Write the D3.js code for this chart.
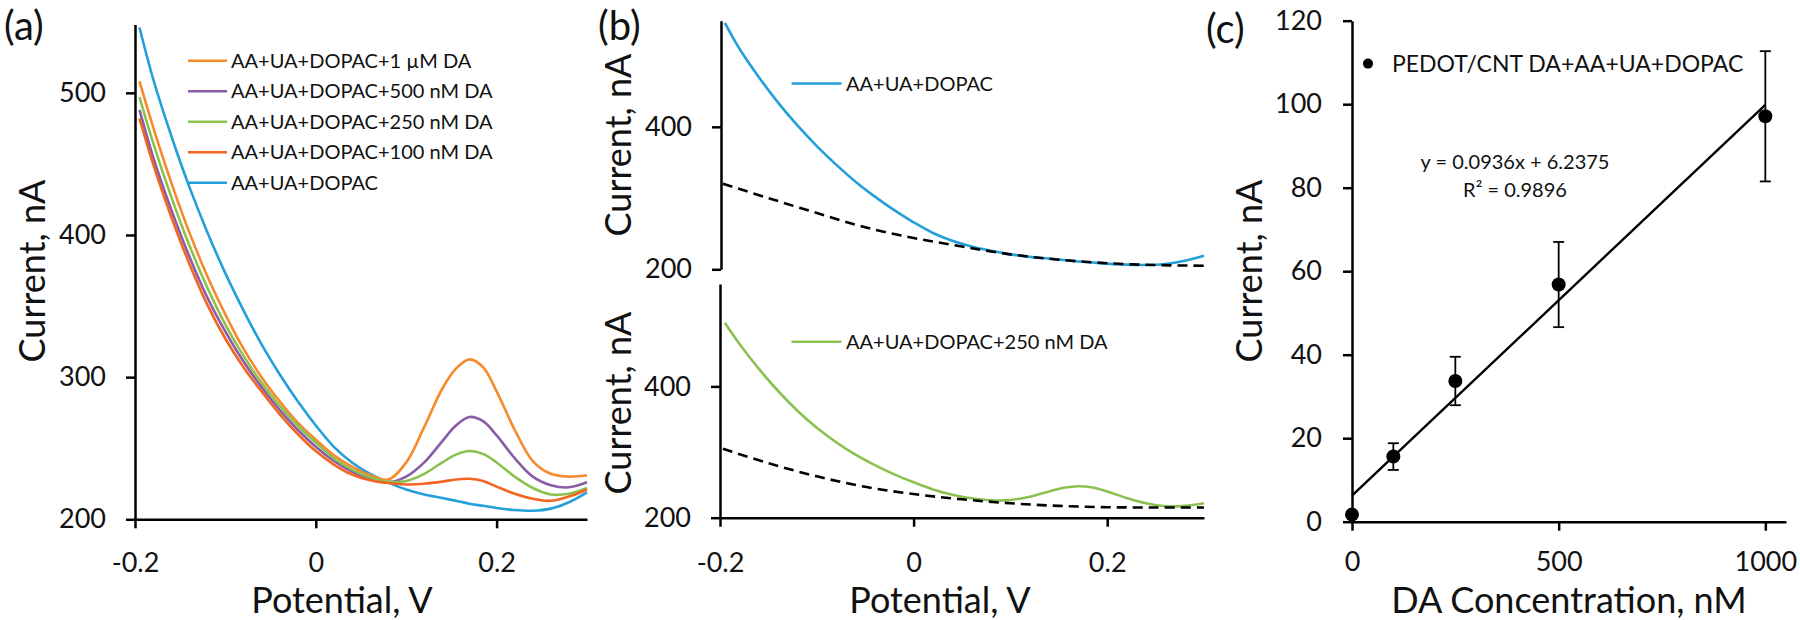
<!DOCTYPE html>
<html><head><meta charset="utf-8">
<script src="https://cdn.jsdelivr.net/npm/d3@7"></script>
<style>
body{margin:0;background:#fff;}
svg{display:block;font-family:Lato,"Open Sans",sans-serif;}
</style></head><body>
<svg id="chart" width="1800" height="620"></svg>
<script>
// ---------- data ----------
const potential = [-0.195,-0.18,-0.16,-0.14,-0.12,-0.10,-0.08,-0.06,-0.04,-0.02,0,0.02,0.04,0.06,0.08,0.10,0.12,0.14,0.155,0.17,0.185,0.20,0.22,0.24,0.26,0.28,0.30];
const cur1uM  = [508,476,437,402,371,344,320,300,283,268,256,245,237,231,228,240,265,292,306,312.5,307,290,263,241,232,230,231];
const cur500  = [488,455,418,385,356,332,311,293,277,263,251,241,233.5,228.5,226,230,240,255,266,272,269,259,243,230,224,222.5,226];
const cur250  = [497,465,427,393,363,337,315,296,280,266,254,243,235,229.5,226.5,227,232,240,245.5,248,246,240,230,222,217.5,218,222];
const cur100  = [482,450,413,380,351,327,307,290,274,260,248,238.5,231.5,227.5,225.5,224.5,225,226.5,228,228.5,227,223,218,214.5,213,216,221];
const curBlank= [546,510,470,434,402,373,347,323,302,283,266,251,240,232,226,221,217.5,215,213,211,209.5,208,206.5,206,207.5,212,219];
const seriesNames = ["AA+UA+DOPAC+1 \u00b5M DA","AA+UA+DOPAC+500 nM DA","AA+UA+DOPAC+250 nM DA","AA+UA+DOPAC+100 nM DA","AA+UA+DOPAC"];
const seriesColors = ["#F7892B","#8A5CA5","#8CC152","#F26522","#23A0DA"];

const baselineV = [-0.197,-0.15,-0.10,-0.05,0,0.05,0.10,0.15,0.20,0.25,0.30];
const baselineTop = [320,300,279,259,244,232,221,213.5,208.5,206,205];
const baselineBottom = [305,283,263,247,236,228,222,218,216,215.5,215.5];

const conc = [0,100,250,500,1000];
const meanCurrent = [1.7,15.6,33.7,56.8,97.1];
const errCurrent = [0,3.2,5.8,10.2,15.6];
const trendX = [0,1000];
const trendY = [6.24,99.84];
const eqText = ["y = 0.0936x + 6.2375","R\u00b2 = 0.9896"];

const ticksA_y = [200,300,400,500];
const ticksV = [-0.2,0,0.2];
const ticksB_y = [200,400];
const ticksC_y = [0,20,40,60,80,100,120];
const ticksC_x = [0,500,1000];

// ---------- drawing ----------
const svg = d3.select("#chart");
const AX = 2.5, TS = 9;
const fmtV = d => d===0 ? "0" : (d<0 ? "-" : "") + Math.abs(d).toFixed(1);

function styleAxis(g, fs){
  g.select(".domain").attr("stroke","#000").attr("stroke-width",AX);
  g.selectAll(".tick line").attr("stroke","#000").attr("stroke-width",AX);
  g.selectAll(".tick text").attr("fill","#111").attr("font-size",fs).attr("font-family","Lato");
}
function line(x,y,xs,ys){ return d3.line().x((d,i)=>x(xs[i])).y(d=>y(d)).curve(d3.curveCatmullRom.alpha(0.5))(ys); }
function ytitle(x,y,t,fs){ svg.append("text").attr("transform",`translate(${x},${y}) rotate(-90)`).attr("text-anchor","middle").attr("font-size",fs).attr("fill","#111").text(t); }
function xtitle(x,y,t){ svg.append("text").attr("x",x).attr("y",y).attr("text-anchor","middle").attr("font-size",36).attr("fill","#111").text(t); }

// panel labels
[["(a)",4,40],["(b)",598,40],["(c)",1206,43]].forEach(p=>svg.append("text").attr("x",p[1]).attr("y",p[2]).attr("font-size",40).attr("fill","#111").text(p[0]));

// ---- (a) ----
const xA = d3.scaleLinear([-0.2,0.3],[135,587]);
const yA = d3.scaleLinear([200,548],[519.3,24.6]);
const curves = [cur1uM,cur500,cur250,cur100,curBlank];
[4,0,1,2,3].forEach(i=>{
  svg.append("path").attr("d",line(xA,yA,potential,curves[i])).attr("fill","none").attr("stroke",seriesColors[i]).attr("stroke-width",2.6);
});
svg.append("g").attr("transform","translate(0,519.3)").call(d3.axisBottom(xA).tickValues(ticksV).tickFormat(fmtV).tickSize(TS).tickSizeOuter(0).tickPadding(25)).call(g=>styleAxis(g,27));
svg.append("g").attr("transform","translate(135,0)").call(d3.axisLeft(yA).tickValues(ticksA_y).tickSize(TS).tickSizeOuter(0).tickPadding(20)).call(g=>styleAxis(g,27));
seriesNames.forEach((n,i)=>{
  const y = 60.8 + i*30.5;
  svg.append("line").attr("x1",188).attr("x2",227).attr("y1",y).attr("y2",y).attr("stroke",seriesColors[i]).attr("stroke-width",2.6);
  svg.append("text").attr("x",231).attr("y",y+7).attr("font-size",20).attr("fill","#111").text(n);
});
xtitle(342,613,"Potential, V");
ytitle(45,271,"Current, nA",36);

// ---- (b) ----
const xB = d3.scaleLinear([-0.2,0.3],[720,1204]);
const yBt = d3.scaleLinear([200,549],[269.3,20.7]);
const yBb = d3.scaleLinear([200,556],[517.7,284]);
svg.append("path").attr("d",line(xB,yBt,potential,curBlank)).attr("fill","none").attr("stroke",seriesColors[4]).attr("stroke-width",2.6);
svg.append("path").attr("d",line(xB,yBt,baselineV,baselineTop)).attr("fill","none").attr("stroke","#000").attr("stroke-width",2.6).attr("stroke-dasharray","10,6");
svg.append("path").attr("d",line(xB,yBb,potential,cur250)).attr("fill","none").attr("stroke",seriesColors[2]).attr("stroke-width",2.6);
svg.append("path").attr("d",line(xB,yBb,baselineV,baselineBottom)).attr("fill","none").attr("stroke","#000").attr("stroke-width",2.6).attr("stroke-dasharray","10,6");
svg.append("g").attr("transform","translate(721,0)").call(d3.axisLeft(yBt).tickValues(ticksB_y).tickSize(TS).tickSizeOuter(0).tickPadding(20)).call(g=>styleAxis(g,27));
svg.append("g").attr("transform","translate(720,0)").call(d3.axisLeft(yBb).tickValues(ticksB_y).tickSize(TS).tickSizeOuter(0).tickPadding(20)).call(g=>styleAxis(g,27));
svg.append("g").attr("transform","translate(0,517.7)").call(d3.axisBottom(xB).tickValues(ticksV).tickFormat(fmtV).tickSize(TS).tickSizeOuter(0).tickPadding(26)).call(g=>styleAxis(g,27));
[[83.5,4,seriesNames[4]],[341.8,2,seriesNames[2]]].forEach(l=>{
  svg.append("line").attr("x1",791.5).attr("x2",841.5).attr("y1",l[0]).attr("y2",l[0]).attr("stroke",seriesColors[l[1]]).attr("stroke-width",2.6);
  svg.append("text").attr("x",846).attr("y",l[0]+7).attr("font-size",20).attr("fill","#111").text(l[2]);
});
xtitle(940,613,"Potential, V");
ytitle(631,145,"Current, nA",36);
ytitle(631,403,"Current, nA",36);

// ---- (c) ----
const xC = d3.scaleLinear([0,1050],[1352,1786]);
const yC = d3.scaleLinear([0,120],[521.7,20.7]);
svg.append("line").attr("x1",xC(trendX[0])).attr("x2",xC(trendX[1])).attr("y1",yC(trendY[0])).attr("y2",yC(trendY[1])).attr("stroke","#000").attr("stroke-width",2.4);
conc.forEach((c,i)=>{
  if(errCurrent[i]>0){
    const g = svg.append("g").attr("stroke","#000").attr("stroke-width",1.8);
    g.append("line").attr("x1",xC(c)).attr("x2",xC(c)).attr("y1",yC(meanCurrent[i]-errCurrent[i])).attr("y2",yC(meanCurrent[i]+errCurrent[i]));
    [meanCurrent[i]-errCurrent[i],meanCurrent[i]+errCurrent[i]].forEach(v=>g.append("line").attr("x1",xC(c)-5.5).attr("x2",xC(c)+5.5).attr("y1",yC(v)).attr("y2",yC(v)));
  }
});
svg.append("g").attr("transform","translate(0,521.7)").call(d3.axisBottom(xC).tickValues(ticksC_x).tickFormat(d3.format("d")).tickSize(TS).tickSizeOuter(0).tickPadding(21)).call(g=>styleAxis(g,27));
svg.append("g").attr("transform","translate(1352,0)").call(d3.axisLeft(yC).tickValues(ticksC_y).tickSize(TS).tickSizeOuter(0).tickPadding(21)).call(g=>styleAxis(g,27));
conc.forEach((c,i)=>svg.append("circle").attr("cx",xC(c)).attr("cy",yC(meanCurrent[i])).attr("r",7).attr("fill","#000"));
svg.append("circle").attr("cx",1368).attr("cy",63.6).attr("r",5).attr("fill","#000");
svg.append("text").attr("x",1392).attr("y",71.6).attr("font-size",23).attr("fill","#111").text("PEDOT/CNT DA+AA+UA+DOPAC");
eqText.forEach((t,i)=>svg.append("text").attr("x",1515).attr("y",169+i*28).attr("text-anchor","middle").attr("font-size",20).attr("fill","#111").text(t));
xtitle(1569,613,"DA Concentration, nM");
ytitle(1262,271,"Current, nA",36);
</script>
</body></html>
